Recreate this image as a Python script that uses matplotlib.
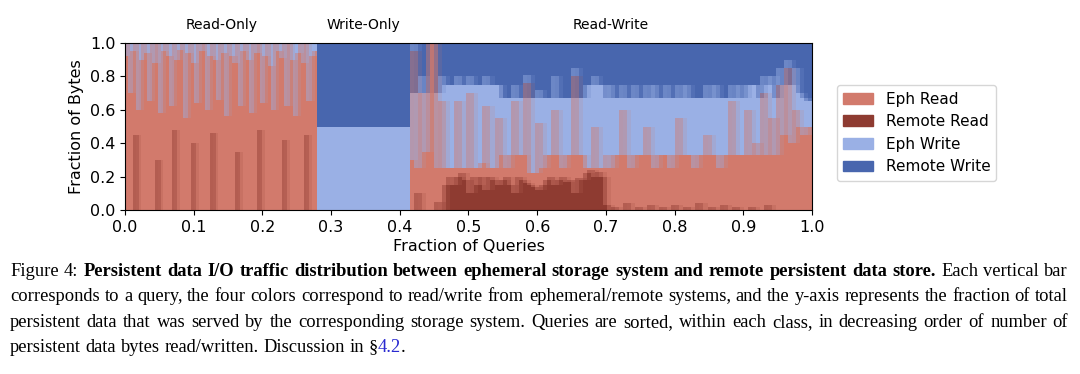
import matplotlib
matplotlib.use("Agg")
import matplotlib.pyplot as plt
from matplotlib.patches import Patch, Rectangle

# share of queries in each class (x extent), in order
classes = ["Read-Only", "Write-Only", "Read-Write"]
class_share = [0.28, 0.135, 0.585]

# per-query byte fractions in percent (remote write = remainder)
ro_remote_read = [0, 0, 0, 0, 45, 0, 0, 0, 0, 0, 0, 0, 30, 0, 0, 0, 0, 0, 48, 0,
                  0, 0, 0, 0, 0, 40, 0, 0, 0, 0, 0, 0, 46, 0, 0, 0, 0, 0, 0, 0,
                  0, 35, 0, 0, 0, 0, 0, 0, 0, 48, 0, 0, 0, 0, 0, 0, 0, 0, 42, 0,
                  0, 0, 0, 0, 0, 0, 45, 0, 0, 0]
ro_eph_write = [8, 0, 30, 5, 0, 40, 10, 0, 6, 35, 0, 12, 0, 42, 5, 0, 8, 38, 0, 10,
                4, 0, 45, 6, 0, 12, 36, 0, 5, 0, 40, 8, 0, 10, 34, 0, 6, 44, 0, 8,
                12, 0, 38, 5, 0, 10, 42, 0, 6, 0, 36, 8, 0, 14, 40, 0, 5, 9, 0, 38,
                0, 10, 44, 6, 0, 12, 0, 35, 8, 5]
ro_eph_read = [100 - a - b for a, b in zip(ro_remote_read, ro_eph_write)]

wo_eph_write = [50, 50, 50, 50, 50, 50, 50, 50, 50, 50]
wo_remote_write = [50, 50, 50, 50, 50, 50, 50, 50, 50, 50]

rw_remote_read = [0, 0, 10, 0, 0, 0, 0, 5, 0, 15,
                  20, 15, 20, 22, 18, 10, 20, 15, 20, 12,
                  20, 18, 15, 18, 20, 15, 10, 20, 18, 16,
                  15, 14, 12, 15, 18, 20, 15, 18, 20, 17,
                  18, 10, 19, 18, 22, 24, 20, 23, 20, 3,
                  0, 2, 0, 0, 4, 0, 0, 2, 0, 0,
                  3, 0, 0, 2, 0, 0, 3, 0, 0, 2,
                  0, 0, 4, 0, 0, 2, 0, 0, 3, 0,
                  0, 2, 0, 0, 0, 2, 0, 0, 0, 3,
                  0, 0, 0, 0, 0, 0, 0, 0, 0, 0]
rw_eph_read = [30, 95, 15, 70, 35, 100, 100, 20, 65, 10,
               5, 10, 45, 3, 7, 60, 5, 10, 8, 50,
               5, 7, 40, 15, 5, 18, 55, 13, 15, 60,
               7, 8, 40, 10, 15, 13, 45, 15, 5, 16,
               15, 70, 14, 15, 3, 1, 30, 2, 5, 30,
               25, 31, 33, 60, 29, 25, 33, 31, 33, 50,
               30, 25, 33, 31, 33, 25, 30, 55, 33, 31,
               33, 25, 29, 33, 45, 31, 33, 25, 30, 33,
               65, 31, 33, 33, 60, 31, 40, 33, 70, 30,
               55, 33, 75, 45, 85, 40, 60, 50, 45, 50]
rw_eph_write = [40, 5, 45, 10, 35, 0, 0, 45, 15, 50,
                50, 50, 15, 50, 50, 10, 50, 50, 47, 18,
                50, 50, 20, 34, 42, 34, 10, 34, 34, 5,
                45, 45, 20, 42, 34, 34, 20, 34, 42, 34,
                34, 5, 34, 34, 50, 50, 30, 50, 50, 34,
                50, 34, 34, 15, 34, 42, 42, 34, 34, 25,
                34, 50, 34, 34, 42, 42, 34, 20, 34, 42,
                34, 42, 34, 34, 30, 34, 42, 42, 34, 34,
                10, 34, 42, 34, 15, 42, 35, 34, 10, 42,
                25, 34, 10, 30, 5, 35, 25, 20, 22, 15]
rw_remote_write = [100 - a - b - c for a, b, c in
                   zip(rw_remote_read, rw_eph_read, rw_eph_write)]

colors = ["#d27a6c", "#8e3b31", "#9ab0e5", "#4866ae"]
labels = ["Eph Read", "Remote Read", "Eph Write", "Remote Write"]

fig = plt.figure(figsize=(10.8, 3.74), dpi=100)
ax = fig.add_axes([125 / 1080, 1 - 210 / 374, 687 / 1080, 167 / 374])


def draw_class(x0, share, rr, er, ew, rw):
    n = len(rr)
    w = share / n
    clip = Rectangle((x0, 0), share, 1, transform=ax.transData)
    # stack order bottom-up: remote read, eph read, eph write, remote write
    order = [(rr, colors[1]), (er, colors[0]), (ew, colors[2]), (rw, colors[3])]
    # solid base bars, then wider translucent copies so neighbours blend
    for width, alpha in [(w, 1.0), (3 * w, 0.45)]:
        for i in range(n):
            b = 0
            for vals, col in order:
                h = vals[i] / 100
                if h > 0:
                    bars = ax.bar(x0 + (i + 0.5) * w, h, width=width, bottom=b,
                                  color=col, alpha=alpha, linewidth=0)
                    for p in bars:
                        p.set_clip_path(clip)
                b += h


starts = [0, class_share[0], class_share[0] + class_share[1]]
zeros_ro = [0] * len(ro_remote_read)
zeros_wo = [0] * len(wo_eph_write)
draw_class(starts[0], class_share[0], ro_remote_read, ro_eph_read, ro_eph_write, zeros_ro)
draw_class(starts[1], class_share[1], zeros_wo, zeros_wo, wo_eph_write, wo_remote_write)
draw_class(starts[2], class_share[2], rw_remote_read, rw_eph_read, rw_eph_write, rw_remote_write)

for name, s, sh in zip(classes, starts, class_share):
    ax.text(s + sh / 2, 1.11, name, transform=ax.get_xaxis_transform(),
            ha="center", va="center", fontsize=10)

ax.set_xlim(0, 1)
ax.set_ylim(0, 1)
ax.set_xticks([i / 10 for i in range(11)])
ax.set_yticks([i / 5 for i in range(6)])
ax.tick_params(labelsize=11.5)
ax.set_xlabel("Fraction of Queries", fontsize=11.5, labelpad=3)
ax.set_ylabel("Fraction of Bytes", fontsize=11.5, labelpad=4)

handles = [Patch(color=c, label=l) for c, l in zip(colors, labels)]
fig.legend(handles=handles, loc="center left", fontsize=11,
           bbox_to_anchor=(829 / 1080, 1 - 133 / 374))

# caption, justified word by word
serif = "Liberation Serif"
cap_lines = [
    [("Figure 4: ", "normal", "black"),
     ("Persistent data I/O traffic distribution between ephemeral storage system and remote persistent data store.", "bold", "black"),
     (" Each vertical bar", "normal", "black")],
    [("corresponds to a query, the four colors correspond to read/write from ephemeral/remote systems, and the y-axis represents the fraction of total", "normal", "black")],
    [("persistent data that was served by the corresponding storage system. Queries are sorted, within each class, in decreasing order of number of", "normal", "black")],
    [("persistent data bytes read/written. Discussion in §", "normal", "black"),
     ("4.2", "normal", "#2a2ad0"), (".", "normal", "black")],
]
baselines = [276, 301, 327, 352]
left, right = 10, 1068
r = fig.canvas.get_renderer()


def words_of(line):
    out = []
    prev_space = True
    for txt, wt, col in line:
        parts = txt.split(" ")
        for j, p in enumerate(parts):
            if p == "":
                continue
            if j == 0 and not prev_space and out:
                out[-1].append((p, wt, col))
            else:
                out.append([(p, wt, col)])
        prev_space = txt.endswith(" ")
    return out


def space_width(fs):
    a = fig.text(0, 0, "a a", fontsize=fs, family=serif)
    b = fig.text(0, 0, "aa", fontsize=fs, family=serif)
    sw = a.get_window_extent(r).width - b.get_window_extent(r).width
    a.remove()
    b.remove()
    return sw


def layout(fs, draw):
    natural = []
    sw = space_width(fs)
    for k, line in enumerate(cap_lines):
        words = words_of(line)
        y = 1 - baselines[k] / 374
        objs, widths = [], []
        for wd in words:
            pieces, wsum = [], 0
            for p, wt, col in wd:
                t = fig.text(0, y, p, fontsize=fs, family=serif, fontweight=wt,
                             color=col, va="baseline")
                pieces.append((t, wsum))
                wsum += t.get_window_extent(r).width
            objs.append(pieces)
            widths.append(wsum)
        natural.append(sum(widths) + sw * (len(words) - 1))
        if not draw:
            for pieces in objs:
                for t, _ in pieces:
                    t.remove()
            continue
        if k < len(cap_lines) - 1:
            gap = (right - left - sum(widths)) / (len(words) - 1)
        else:
            gap = sw
        x = left
        for pieces, wsum in zip(objs, widths):
            for t, off in pieces:
                t.set_x((x + off) / 1080)
            x += wsum + gap
    return natural


nat = layout(12, False)
fsize = 12 * (right - left) / max(nat[:3]) * 0.995
layout(fsize, True)

fig.savefig("out.png", dpi=100)
